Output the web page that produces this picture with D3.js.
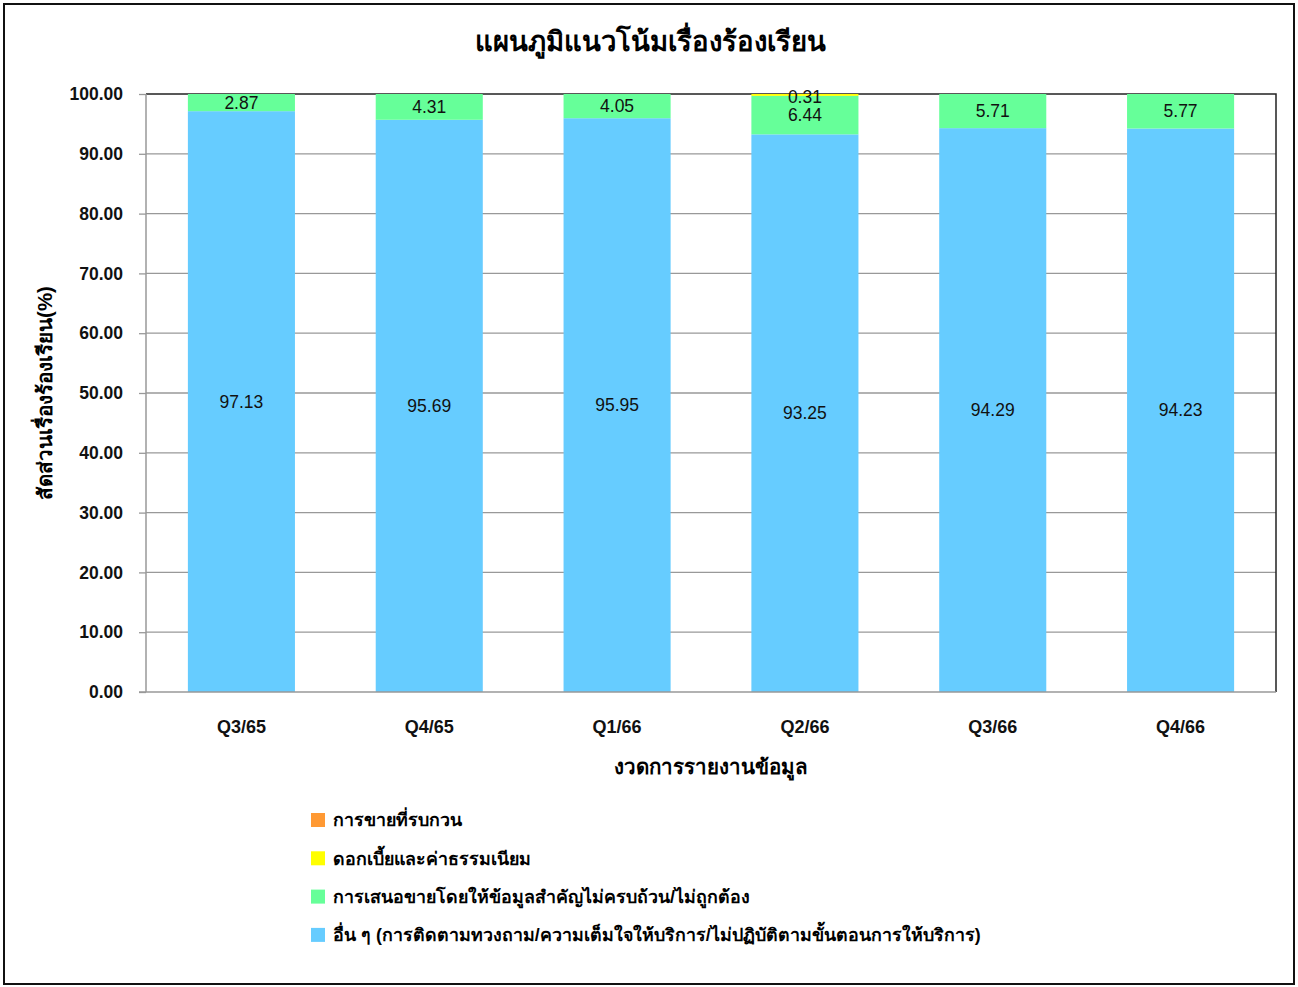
<!DOCTYPE html>
<html>
<head>
<meta charset="utf-8">
<script src="https://cdn.jsdelivr.net/npm/d3@7"></script>
<style>
  body { margin: 0; background: #fff; }
  svg text { font-family: "Liberation Sans", Arial, "Noto Sans", sans-serif; }
</style>
</head>
<body>
<svg id="chart" width="1298" height="987"></svg>
<script>
// quarters on the x axis
const quarters = ["Q3/65", "Q4/65", "Q1/66", "Q2/66", "Q3/66", "Q4/66"];

// series, bottom to top
const other = [97.13, 95.69, 95.95, 93.25, 94.29, 94.23];
const misinfo = [2.87, 4.31, 4.05, 6.44, 5.71, 5.77];
const interest = [0, 0, 0, 0.31, 0, 0];
const pushySale = [0, 0, 0, 0, 0, 0];

const seriesNames = [
  "อื่น ๆ (การติดตามทวงถาม/ความเต็มใจให้บริการ/ไม่ปฏิบัติตามขั้นตอนการให้บริการ)",
  "การเสนอขายโดยให้ข้อมูลสำคัญไม่ครบถ้วน/ไม่ถูกต้อง",
  "ดอกเบี้ยและค่าธรรมเนียม",
  "การขายที่รบกวน"
];
const seriesColors = ["#66ccff", "#66ff99", "#ffff00", "#ff9933"];
const yTicks = [0, 10, 20, 30, 40, 50, 60, 70, 80, 90, 100];

const svg = d3.select("#chart");
const margin = { left: 146, right: 22, top: 94, bottom: 295 };
const W = 1298, H = 987;
const plotW = W - margin.left - margin.right;
const plotH = H - margin.top - margin.bottom;

// outer frame
svg.append("rect")
  .attr("x", 4).attr("y", 4)
  .attr("width", 1290).attr("height", 980)
  .attr("fill", "none").attr("stroke", "#111").attr("stroke-width", 2);

svg.append("text")
  .attr("x", 650).attr("y", 51)
  .attr("text-anchor", "middle")
  .attr("font-size", 27.5).attr("font-weight", "bold")
  .text("แผนภูมิแนวโน้มเรื่องร้องเรียน");

const table = quarters.map((q, i) => ({
  q: q, s0: other[i], s1: misinfo[i], s2: interest[i], s3: pushySale[i]
}));
const keys = ["s0", "s1", "s2", "s3"];
const stacked = d3.stack().keys(keys)(table);

const x = d3.scaleBand().domain(quarters).range([0, plotW]).paddingInner(0.43).paddingOuter(0.223);
const y = d3.scaleLinear().domain([0, 100]).range([plotH, 0]);

const g = svg.append("g").attr("transform", `translate(${margin.left},${margin.top})`);

// gridlines
g.append("g")
  .selectAll("line")
  .data(yTicks.slice(1, -1))
  .join("line")
  .attr("x1", 0).attr("x2", plotW)
  .attr("y1", d => y(d)).attr("y2", d => y(d))
  .attr("stroke", "#999").attr("stroke-width", 1.3);

// top and right frame of plot
g.append("path")
  .attr("d", `M0,${y(100)}H${plotW}V${plotH}`)
  .attr("fill", "none").attr("stroke", "#222").attr("stroke-width", 1.5);

// bars
g.selectAll("g.layer")
  .data(stacked)
  .join("g")
  .attr("class", "layer")
  .attr("fill", (d, i) => seriesColors[i])
  .selectAll("rect")
  .data(d => d)
  .join("rect")
  .attr("x", d => x(d.data.q))
  .attr("width", x.bandwidth())
  .attr("y", d => y(d[1]))
  .attr("height", d => y(d[0]) - y(d[1]));

// value labels
stacked.forEach(layer => {
  g.append("g")
    .selectAll("text")
    .data(layer.filter(d => d[1] - d[0] > 0))
    .join("text")
    .attr("x", d => x(d.data.q) + x.bandwidth() / 2)
    .attr("y", d => layer.key === "s2" ? y(d[1]) + 3 : (y(d[0]) + y(d[1])) / 2)
    .attr("dy", "0.35em")
    .attr("text-anchor", "middle")
    .attr("font-size", 17.5)
    .attr("fill", "#111")
    .text(d => (d[1] - d[0]).toFixed(2));
});

// y axis
const yAxis = g.append("g")
  .call(d3.axisLeft(y).tickValues(yTicks).tickFormat(d3.format(".2f")).tickSize(7).tickPadding(16));
yAxis.select(".domain").attr("stroke", "#999").attr("stroke-width", 1.5).attr("d", `M0,${plotH}V0`);
yAxis.selectAll(".tick line").attr("stroke", "#999").attr("stroke-width", 1.3);
yAxis.selectAll(".tick text")
  .attr("font-size", 17.5).attr("font-weight", "bold").attr("fill", "#111")
  .style("font-family", "'Liberation Sans', Arial, sans-serif");

// x axis
const xAxis = g.append("g")
  .attr("transform", `translate(0,${plotH})`)
  .call(d3.axisBottom(x).tickSize(0).tickPadding(28));
xAxis.select(".domain").attr("stroke", "#999").attr("stroke-width", 1.5).attr("d", `M-7,0H${plotW}`);
xAxis.selectAll(".tick text")
  .attr("font-size", 18).attr("font-weight", "bold").attr("fill", "#111")
  .style("font-family", "'Liberation Sans', Arial, sans-serif");

// axis titles
svg.append("text")
  .attr("transform", `translate(52,${margin.top + plotH / 2}) rotate(-90)`)
  .attr("text-anchor", "middle")
  .attr("font-size", 20.5).attr("font-weight", "bold")
  .text("สัดส่วนเรื่องร้องเรียน(%)");

svg.append("text")
  .attr("x", 711).attr("y", 774)
  .attr("text-anchor", "middle")
  .attr("font-size", 20.5).attr("font-weight", "bold")
  .text("งวดการรายงานข้อมูล");

// legend, top item is the last series
const legendOrder = [3, 2, 1, 0];
const legend = svg.append("g").attr("transform", "translate(311,820)");
legendOrder.forEach((si, row) => {
  const item = legend.append("g").attr("transform", `translate(0,${row * 38.3})`);
  item.append("rect")
    .attr("x", 0).attr("y", -7).attr("width", 14).attr("height", 14)
    .attr("fill", seriesColors[si]);
  item.append("text")
    .attr("x", 22).attr("y", 0).attr("dy", "0.35em")
    .attr("font-size", 17.8).attr("font-weight", "bold")
    .text(seriesNames[si]);
});
</script>
</body>
</html>
